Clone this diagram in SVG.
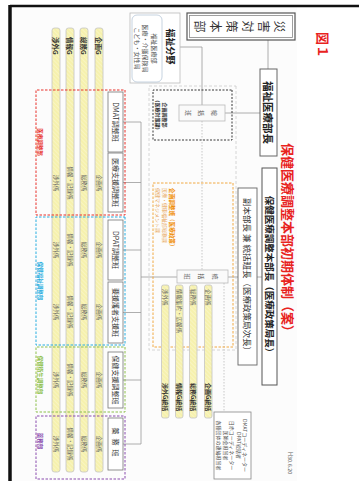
<svg xmlns="http://www.w3.org/2000/svg" width="359" height="481" viewBox="0 0 359 481">
<defs>
<pattern id="hatch" width="3" height="3" patternUnits="userSpaceOnUse" patternTransform="rotate(45)">
<rect width="3" height="3" fill="#f6f1ad"/>
<line x1="0" y1="0" x2="0" y2="3" stroke="#fbf8d8" stroke-width="1"/>
</pattern>
</defs>
<style>
text{font-family:"Noto Sans CJK JP","Noto Sans",sans-serif;}
.box{fill:#fff;stroke:#777;stroke-width:0.8}
.sbox{fill:#fafafa;stroke:#bbb;stroke-width:0.8}
.team{font-size:7px;fill:#333;text-anchor:middle;dominant-baseline:central}
.bar{fill:url(#hatch);stroke:#c4c4c4;stroke-width:0.8}
.bl{font-size:5.5px;fill:#666;text-anchor:middle;dominant-baseline:central}
.gl{font-size:6.5px;font-weight:bold;fill:#333;dominant-baseline:central}
.ln{stroke:#999;stroke-width:0.8;fill:none}
.dot{stroke:#bbb;stroke-width:0.8;stroke-dasharray:1.5 1.5;fill:none}
.grp{fill:none;stroke-width:1;stroke-dasharray:2.5 1.5}
.glab{font-size:5.5px;font-weight:bold;text-anchor:middle;dominant-baseline:central}
.vc{font-size:6px;fill:#555;text-anchor:middle;dominant-baseline:central}
.sm{font-size:5px;fill:#555;text-anchor:middle;dominant-baseline:central}
</style>
<g transform="translate(359,0) rotate(90)">
<rect x="7" y="62" width="474" height="285" fill="#fcfcfc"/>
<line x1="6" y1="0" x2="6" y2="349" stroke="#111" stroke-width="2.5"/>
<line x1="5" y1="349" x2="481" y2="349" stroke="#111" stroke-width="3.5"/>

<g id="fig-label"><text x="32" y="36" font-size="13" font-weight="bold" fill="#e8231e" dominant-baseline="central">図１</text></g>
<g id="title"><text x="143" y="70.5" font-size="13" font-weight="bold" fill="#e8231e" dominant-baseline="central">保健医療調整本部初期体制（案）</text></g>
<g id="date"><text x="452" y="69" font-size="5.5" fill="#666" dominant-baseline="central">H30.6.20</text></g>

<g id="connectors">
<line class="ln" x1="40" y1="91" x2="69" y2="91"/>
<line class="ln" x1="113" y1="99" x2="113" y2="134"/>
<path class="ln" d="M47,179 V157 H105"/>
<path class="dot" d="M121,157 H270"/>
<path class="dot" d="M283,135 H412"/>
<path class="ln" d="M277,131 V97"/>
<path class="ln" d="M277,218 V182"/>
<path class="ln" d="M122,218 H444 M122,218 V236 M182.5,218 V236 M250,218 V236 M312.5,218 V236 M380,218 V236 M444,218 V236"/>
</g>

<g id="saigai">
<rect x="13" y="64" width="27" height="108" fill="#fff" stroke="#555" stroke-width="1.2"/>
<rect x="15.5" y="66.5" width="22" height="103" fill="none" stroke="#888" stroke-width="0.8"/>
<text font-size="12" fill="#333" text-anchor="middle" dominant-baseline="central"><tspan x="26.5" y="78">災</tspan><tspan x="26.5" y="94">害</tspan><tspan x="26.5" y="110">対</tspan><tspan x="26.5" y="126">策</tspan><tspan x="26.5" y="142">本</tspan><tspan x="26.5" y="158">部</tspan></text>
</g>

<g id="fukushi-bucho">
<rect x="69" y="82" width="87" height="17" fill="#fff" stroke="#666" stroke-width="1"/>
<text x="112.5" y="90.5" font-size="10.5" font-weight="bold" fill="#222" text-anchor="middle" dominant-baseline="central">福祉医療部長</text>
</g>

<g id="fukushi-bunya">
<rect x="13" y="179" width="70" height="50" fill="#fff" stroke="#bbb" stroke-width="0.8"/>
<text x="46.5" y="188.5" font-size="9" font-weight="bold" fill="#222" text-anchor="middle" dominant-baseline="central">福祉分野</text>
<rect x="15" y="197" width="67" height="30" rx="5" fill="none" stroke="#b8c8d8" stroke-width="0.8"/>
<text x="48.5" y="205" class="vc">福祉医療部</text>
<text x="48.5" y="213.5" class="vc">医療・介護保険局</text>
<text x="48.5" y="222" class="vc">こども・女性局</text>
</g>

<g id="kikaku-bu">
<rect x="86" y="123" width="264" height="87" fill="none" stroke="#ccc" stroke-width="0.8" stroke-dasharray="3 2"/>
<rect x="90" y="127" width="50" height="79" fill="none" stroke="#222" stroke-width="0.9" stroke-dasharray="2 1.5"/>
<text x="115" y="194" font-size="5" font-weight="bold" fill="#333" text-anchor="middle" dominant-baseline="central">企画調整部</text>
<text x="115" y="201" font-size="5" font-weight="bold" fill="#333" text-anchor="middle" dominant-baseline="central">（医療対策課）</text>
</g>

<g id="sokatsu-han">
<rect class="sbox" x="105" y="134" width="16" height="46"/>
<text class="vc"><tspan x="113" y="144">総</tspan><tspan x="113" y="157">括</tspan><tspan x="113" y="170">班</tspan></text>
</g>

<g id="kikaku-han">
<rect x="183" y="126" width="164" height="80" fill="none" stroke="#f0a030" stroke-width="0.9" stroke-dasharray="2.5 1.5"/>
<text x="188" y="187" font-size="5.6" font-weight="bold" fill="#f08c00" dominant-baseline="central">企画調整班（医療政策）</text>
<text x="188" y="194" font-size="5" fill="#e8a860" dominant-baseline="central">医療・健康福祉部総務課</text>
<text x="188" y="200.5" font-size="5" fill="#e8a860" dominant-baseline="central">保健マネジメント課</text>
<rect class="bar" x="285" y="147" width="133" height="7.5" rx="2"/>
<rect class="bar" x="285" y="162" width="133" height="7.5" rx="2"/>
<rect class="bar" x="285" y="176" width="133" height="7.5" rx="2"/>
<rect class="bar" x="285" y="190" width="133" height="7.5" rx="2"/>
<text x="289" y="151" font-size="5.5" fill="#666" dominant-baseline="central">企画係</text>
<text x="289" y="166" font-size="5.5" fill="#666" dominant-baseline="central">総務係</text>
<text x="289" y="180" font-size="5.5" fill="#666" dominant-baseline="central">情報集約・広報係</text>
<text x="289" y="194" font-size="5.5" fill="#666" dominant-baseline="central">渉外係</text>
<text x="383" y="151" font-size="6" font-weight="bold" fill="#333" dominant-baseline="central">企画G統括</text>
<text x="383" y="166" font-size="6" font-weight="bold" fill="#333" dominant-baseline="central">総務G統括</text>
<text x="383" y="180" font-size="6" font-weight="bold" fill="#333" dominant-baseline="central">情報G統括</text>
<text x="383" y="194" font-size="6" font-weight="bold" fill="#333" dominant-baseline="central">渉外G統括</text>
</g>

<g id="tokatsu-han">
<rect class="sbox" x="270" y="131" width="13" height="51"/>
<text class="vc"><tspan x="276.5" y="143">統</tspan><tspan x="276.5" y="157">括</tspan><tspan x="276.5" y="171">班</tspan></text>
</g>

<g id="fuku-honbucho">
<rect x="188" y="102" width="177" height="19" fill="#fff" stroke="#666" stroke-width="0.9"/>
<text x="276.5" y="111.5" font-size="8.5" fill="#333" text-anchor="middle" dominant-baseline="central">副本部長 兼 統括班長（医療政策局次長）</text>
</g>

<g id="honbucho">
<rect x="168" y="82" width="217" height="15" fill="#fff" stroke="#555" stroke-width="1"/>
<text x="276.5" y="89.5" font-size="9.5" font-weight="bold" fill="#222" text-anchor="middle" dominant-baseline="central">保健医療調整本部長（医療政策局長）</text>
</g>

<g id="coordinators">
<rect x="412" y="108" width="67" height="37" fill="#fff" stroke="#888" stroke-width="0.8"/>
<text x="445.5" y="113.5" class="sm">DMATコーディネーター</text>
<text x="445.5" y="120" class="sm">DPAT統括者</text>
<text x="445.5" y="126.5" class="sm">日赤コーディネーター</text>
<text x="445.5" y="133" class="sm">医師会担当者</text>
<text x="445.5" y="139.5" class="sm">各種団体の連絡担当者</text>
</g>

<g id="groups">
<rect class="bar" x="28" y="256" width="444" height="8" rx="2.5"/>
<rect class="bar" x="28" y="271" width="444" height="8" rx="2.5"/>
<rect class="bar" x="28" y="285" width="444" height="8" rx="2.5"/>
<rect class="bar" x="28" y="299" width="444" height="8" rx="2.5"/>
<text class="gl" x="37" y="260">企画G</text>
<text class="gl" x="37" y="275">総務G</text>
<text class="gl" x="37" y="289">情報G</text>
<text class="gl" x="37" y="303">渉外G</text>

<rect class="grp" x="90" y="234" width="125" height="89" stroke="#e8302a"/>
<rect class="grp" x="217" y="234" width="128" height="89" stroke="#29aee0"/>
<rect class="grp" x="347" y="234" width="65" height="89" stroke="#8dc04c"/>
<rect class="grp" x="416" y="234" width="63" height="89" stroke="#8a4cae"/>
<text class="glab" x="142" y="319" fill="#e8302a">医療調整部</text>
<text class="glab" x="281" y="319" fill="#29aee0">保健福祉調整部</text>
<text class="glab" x="375" y="319" fill="#8dc04c">保健衛生調整部</text>
<text class="glab" x="441" y="319" fill="#8a4cae">薬務部</text>

<g class="bl">
<text x="183" y="260">企画係</text><text x="183" y="275">総務係</text><text x="183" y="289">情報・記録係</text><text x="183" y="303">渉外係</text>
<text x="250" y="260">企画係</text><text x="250" y="275">総務係</text><text x="250" y="289">情報・記録係</text><text x="250" y="303">渉外係</text>
<text x="312" y="260">企画係</text><text x="312" y="275">総務係</text><text x="312" y="289">情報・記録係</text><text x="312" y="303">渉外係</text>
<text x="380" y="260">企画係</text><text x="380" y="275">総務係</text><text x="380" y="289">情報・記録係</text><text x="380" y="303">渉外係</text>
<text x="444" y="260">企画係</text><text x="444" y="275">総務係</text><text x="444" y="289">情報・記録係</text><text x="444" y="303">渉外係</text>
</g>
</g>

<g id="team-dmat"><rect class="box" x="92" y="236" width="60" height="15"/><text class="team" x="122" y="243.5">DMAT調整班</text></g>
<g id="team-iryo"><rect class="box" x="153" y="236" width="59" height="15"/><text class="team" x="182.5" y="243.5">医療支援調整班</text></g>
<g id="team-dpat"><rect class="box" x="220" y="236" width="60" height="15"/><text class="team" x="250" y="243.5">DPAT調整班</text></g>
<g id="team-yoengo"><rect class="box" x="282" y="236" width="61" height="15"/><text class="team" x="312.5" y="243.5">要援護者支援班</text></g>
<g id="team-hoken"><rect class="box" x="352" y="236" width="56" height="15"/><text class="team" x="380" y="243.5">保健支援調整班</text></g>
<g id="team-yakumu"><rect class="box" x="418" y="236" width="52" height="15"/><text class="team" x="444" y="243.5" letter-spacing="4">薬務班</text></g>
</g>
</svg>
